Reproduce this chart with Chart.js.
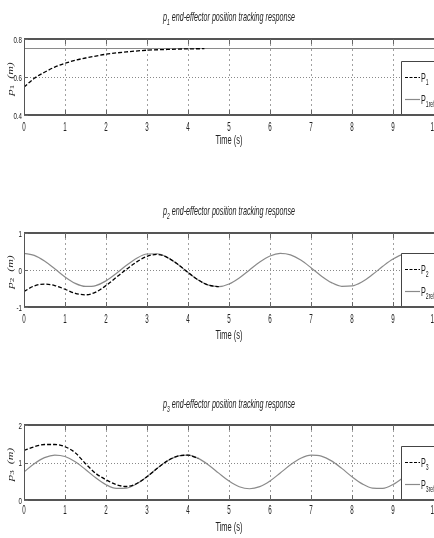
<!DOCTYPE html>
<html><head><meta charset="utf-8">
<script src="https://cdn.jsdelivr.net/npm/chart.js@4.4.1/dist/chart.umd.min.js"></script>
<style>
html,body{margin:0;padding:0;background:#fff;width:434px;height:538px;overflow:hidden}
canvas{position:absolute;left:0}
</style></head><body>
<canvas id="c1" width="434" height="180" style="top:0px"></canvas>
<canvas id="c2" width="434" height="180" style="top:180px"></canvas>
<canvas id="c3" width="434" height="178" style="top:360px"></canvas>
<script>
// ---------- data ----------
const xTicks = [0,1,2,3,4,5,6,7,8,9,10];
const xTickLabels = ['0','1','2','3','4','5','6','7','8','9','10'];

const y1Ticks = [0.4,0.6,0.8];
const y1TickLabels = ['0.4','0.6','0.8'];
const y2Ticks = [-1,0,1];
const y2TickLabels = ['-1','0','1'];
const y3Ticks = [0,1,2];
const y3TickLabels = ['0','1','2'];

const tRef = [0,0.25,0.5,0.75,1,1.25,1.5,1.75,2,2.25,2.5,2.75,3,3.25,3.5,3.75,4,4.25,4.5,4.75,5,5.25,5.5,5.75,6,6.25,6.5,6.75,7,7.25,7.5,7.75,8,8.25,8.5,8.75,9,9.25,9.5,9.75,10];

const t1Ref = [0,10];
const p1Ref = [0.75,0.75];
const t1 = [0,0.25,0.5,0.75,1,1.25,1.5,1.75,2,2.5,3,3.5,4,4.4];
const p1 = [0.547,0.593,0.625,0.652,0.672,0.688,0.700,0.710,0.720,0.732,0.741,0.745,0.748,0.749];

const p2Ref = [0.45,0.395,0.243,0.032,-0.187,-0.361,-0.445,-0.421,-0.294,-0.095,0.128,0.319,0.432,0.439,0.339,0.156,-0.065,-0.271,-0.410,-0.449,-0.378,-0.214,0.002,0.217,0.380,0.449,0.408,0.268,0.062,-0.160,-0.342,-0.440,-0.431,-0.318,-0.124,0.099,0.297,0.424,0.445,0.359,0.184];
const t2 = [0,0.25,0.5,0.75,1,1.25,1.5,1.75,2,2.25,2.5,2.75,3,3.25,3.5,3.75,4,4.25,4.5,4.75];
const p2 = [-0.58,-0.43,-0.38,-0.42,-0.52,-0.63,-0.67,-0.60,-0.42,-0.20,0.02,0.22,0.37,0.42,0.335,0.155,-0.065,-0.271,-0.410,-0.449];

const p3Ref = [0.75,0.966,1.129,1.199,1.159,1.019,0.813,0.592,0.409,0.310,0.318,0.432,0.624,0.847,1.046,1.172,1.195,1.109,0.935,0.716,0.505,0.354,0.300,0.356,0.508,0.720,0.939,1.112,1.196,1.171,1.043,0.843,0.620,0.430,0.318,0.310,0.412,0.598,0.817,1.022,1.161];
const t3 = [0,0.25,0.5,0.75,1,1.25,1.5,1.75,2,2.25,2.5,2.75,3,3.25,3.5,3.75,4,4.25];
const p3 = [1.32,1.42,1.48,1.48,1.42,1.26,0.97,0.71,0.54,0.41,0.36,0.44,0.62,0.845,1.045,1.172,1.195,1.109];

const titleRest = ' end-effector position tracking response';
const xLabel = 'Time (s)';

// ---------- helpers ----------
const SANS = '"Liberation Sans", Arial, Helvetica, sans-serif';
const SERIF = '"Liberation Serif", "DejaVu Serif", serif';
function pts(t, v){ return t.map((x,i)=>({x:x, y:v[i]})); }

function drawPieces(ctx, pieces, x, y, sx, align){
  ctx.save();
  let w = 0;
  pieces.forEach(p=>{ ctx.font = p.font; w += ctx.measureText(p.t).width; });
  let start = align==='center' ? x - w*sx/2 : (align==='right' ? x - w*sx : x);
  ctx.translate(start, y);
  ctx.scale(sx, 1);
  ctx.textAlign = 'left';
  ctx.textBaseline = 'alphabetic';
  let cx = 0;
  pieces.forEach(p=>{ ctx.font = p.font; ctx.fillText(p.t, cx, p.dy||0); cx += ctx.measureText(p.t).width; });
  ctx.restore();
  return w*sx;
}
function line(ctx,x1,y1,x2,y2){ ctx.beginPath(); ctx.moveTo(x1,y1); ctx.lineTo(x2,y2); ctx.stroke(); }

function makeChart(id, cfg){
  const deco = {
    id: 'deco'+id,
    beforeDatasetsDraw(chart){
      const {ctx, chartArea:a, scales:{x,y}} = chart;
      ctx.save();
      ctx.lineWidth = 1;
      ctx.strokeStyle = '#a0a0a0';
      ctx.setLineDash([2,3]);
      xTicks.forEach(v=>{
        if (v<=0 || v>=10) return;
        const px = Math.round(x.getPixelForValue(v))+0.5;
        line(ctx, px, a.top, px, a.bottom);
      });
      ctx.strokeStyle = '#888';
      ctx.setLineDash([1,2]);
      const py = Math.round(y.getPixelForValue(cfg.yTicks[1]))+0.5;
      line(ctx, a.left, py, a.right, py);
      ctx.restore();
    },
    afterDatasetsDraw(chart){
      const {ctx, chartArea:a, scales:{x,y}} = chart;
      ctx.save();
      // legend box
      const L = 401, T = Math.round(a.bottom) - 54;
      ctx.fillStyle = '#fff';
      ctx.fillRect(L, T, chart.width - L, a.bottom - T);
      ctx.strokeStyle = '#444'; ctx.lineWidth = 1;
      ctx.beginPath(); ctx.moveTo(L+0.5, a.bottom); ctx.lineTo(L+0.5, T+0.5); ctx.lineTo(chart.width, T+0.5); ctx.stroke();
      const e1 = Math.round(a.bottom) - 38 + 0.5, e2 = Math.round(a.bottom) - 16 + 0.5;
      ctx.strokeStyle = '#000'; ctx.setLineDash([3,1.5]); ctx.lineWidth = 1.2;
      line(ctx, 405, e1, 420, e1);
      ctx.setLineDash([]); ctx.strokeStyle = '#8a8a8a'; ctx.lineWidth = 1.2;
      line(ctx, 405, e2, 420, e2);
      ctx.fillStyle = '#222';
      drawPieces(ctx, [{t:'P', font:'12px '+SANS},{t:cfg.idx, font:'8.5px '+SANS, dy:3}], 421, e1+4, 0.6, 'left');
      drawPieces(ctx, [{t:'P', font:'12px '+SANS},{t:cfg.idx+'ref', font:'8.5px '+SANS, dy:3}], 421, e2+4, 0.6, 'left');

      // box lines
      ctx.strokeStyle = '#555';
      ctx.lineWidth = 2;
      line(ctx, a.left, Math.round(a.top), a.right, Math.round(a.top));
      line(ctx, a.left, Math.round(a.bottom), a.right, Math.round(a.bottom));
      ctx.lineWidth = 1;
      line(ctx, a.left+0.5, a.top, a.left+0.5, a.bottom);
      // inner tick marks
      ctx.strokeStyle = '#666';
      xTicks.forEach(v=>{
        if (v<=0) return;
        const px = Math.round(x.getPixelForValue(v))+0.5;
        if (px > L) return;
        line(ctx, px, a.bottom, px, a.bottom-5);
        line(ctx, px, a.top, px, a.top+5);
      });
      cfg.yTicks.forEach(v=>{
        const py = Math.round(y.getPixelForValue(v))+0.5;
        line(ctx, a.left, py, a.left+4, py);
      });
      ctx.restore();
    },
    afterDraw(chart){
      const {ctx, chartArea:a, scales:{x,y}} = chart;
      ctx.save();
      ctx.fillStyle = '#222';
      // x tick labels
      xTicks.forEach((v,i)=>{
        drawPieces(ctx, [{t:xTickLabels[i], font:'13.5px '+SANS}], x.getPixelForValue(v), a.bottom + cfg.xTickOff, 0.46, 'center');
      });
      // y tick labels
      cfg.yTicks.forEach((v,i)=>{
        drawPieces(ctx, [{t:cfg.yTickLabels[i], font:'9.5px '+SANS}], 22, y.getPixelForValue(v)+3.5, 0.65, 'right');
      });
      // x label
      drawPieces(ctx, [{t:xLabel, font:'12.5px '+SANS}], (a.left+a.right)/2, a.bottom + cfg.xLabOff, 0.6, 'center');
      // title
      const tp = [{t:'p', font:'italic 13px '+SANS},{t:cfg.idx, font:'italic 9px '+SANS, dy:4}, {t:titleRest, font:'italic 13px '+SANS}];
      let nat = 0; tp.forEach(p=>{ctx.font=p.font; nat += ctx.measureText(p.t).width;});
      drawPieces(ctx, tp, (a.left+a.right)/2, a.top - cfg.titleOff, 132/nat, 'center');
      // y label (rotated)
      ctx.save();
      ctx.translate(11, (a.top+a.bottom)/2 + 2);
      ctx.rotate(-Math.PI/2);
      ctx.scale(1, 0.6);
      ctx.textBaseline = 'middle';
      const yp = [{t:'p', font:'italic 13px '+SERIF},{t:cfg.idx, font:'9px '+SERIF, dy:3},{t:'  (m)', font:'italic 12px '+SERIF}];
      let w = 0; yp.forEach(p=>{ctx.font=p.font; w += ctx.measureText(p.t).width;});
      let cx = -w/2;
      yp.forEach(p=>{ctx.font=p.font; ctx.fillText(p.t, cx, p.dy||0); cx += ctx.measureText(p.t).width;});
      ctx.restore();
      ctx.restore();
    }
  };

  return new Chart(document.getElementById(id), {
    type: 'line',
    data: { datasets: [
      { data: cfg.act, borderColor:'#000', borderWidth:1.3, borderDash:[4,2], pointRadius:0, fill:false, cubicInterpolationMode:'monotone' },
      { data: cfg.ref, borderColor:'#8a8a8a', borderWidth:1.2, pointRadius:0, fill:false, cubicInterpolationMode:'monotone' }
    ]},
    options: {
      responsive:false, animation:false, events:[],
      layout:{ padding:{ left:24, right:0, top:cfg.padTop, bottom:cfg.padBottom } },
      plugins:{ legend:{display:false}, title:{display:false}, tooltip:{enabled:false} },
      scales:{
        x:{ type:'linear', min:0, max:10, display:false },
        y:{ type:'linear', min:cfg.yMin, max:cfg.yMax, display:false }
      }
    },
    plugins:[deco]
  });
}

makeChart('c1', { idx:'1', act:pts(t1,p1), ref:pts(t1Ref,p1Ref), yMin:0.4, yMax:0.8, yTicks:y1Ticks, yTickLabels:y1TickLabels,
  padTop:39, padBottom:65, xTickOff:16, xLabOff:29, titleOff:18 });
makeChart('c2', { idx:'2', act:pts(t2,p2), ref:pts(tRef,p2Ref), yMin:-1, yMax:1, yTicks:y2Ticks, yTickLabels:y2TickLabels,
  padTop:53, padBottom:53, xTickOff:16, xLabOff:32, titleOff:18 });
makeChart('c3', { idx:'3', act:pts(t3,p3), ref:pts(tRef,p3Ref), yMin:0, yMax:2, yTicks:y3Ticks, yTickLabels:y3TickLabels,
  padTop:65, padBottom:38, xTickOff:14, xLabOff:31, titleOff:17 });
</script>
</body></html>
